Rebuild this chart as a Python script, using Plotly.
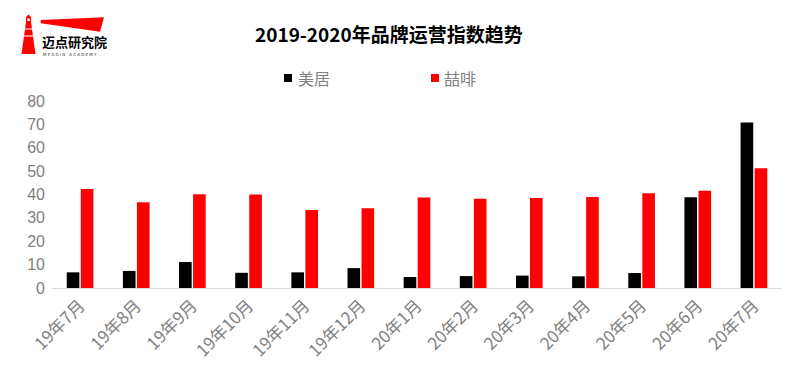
import plotly.graph_objects as go

categories = ["19年7月", "19年8月", "19年9月", "19年10月", "19年11月", "19年12月",
              "20年1月", "20年2月", "20年3月", "20年4月", "20年5月", "20年6月", "20年7月"]
meiju = [6.7, 7.3, 11.1, 6.5, 6.7, 8.5, 4.7, 5.1, 5.3, 5.0, 6.4, 38.8, 70.8]
zhefei = [42.4, 36.7, 40.1, 40.0, 33.4, 34.1, 38.7, 38.2, 38.5, 38.9, 40.5, 41.6, 51.2]
y_ticks = [0, 10, 20, 30, 40, 50, 60, 70, 80]
series_names = ["美居", "喆啡"]
series_colors = ["#000000", "#ff0000"]

# page body has an 8px margin: figure origin sits at (8, 8) of the window
OFF = 8
W, H = 800 - OFF, 376 - OFF
L, R, T, B = 52 - OFF, 18, 101 - OFF, 88
PW, PH = W - L - R, H - T - B

def px(x):
    return (x - OFF - L) / PW

def py(y):
    return (H - B - (y - OFF)) / PH

FONT = "Noto Sans CJK SC, Microsoft YaHei, sans-serif"

fig = go.Figure()
fig.add_trace(go.Bar(name=series_names[0], x=categories, y=meiju,
                     marker_color=series_colors[0], marker_line_width=0))
fig.add_trace(go.Bar(name=series_names[1], x=categories, y=zhefei,
                     marker_color=series_colors[1], marker_line_width=0))

shapes = []
def poly(pts, color):
    path = "M " + " L ".join(f"{px(a)},{py(b)}" for a, b in pts) + " Z"
    return dict(type="path", xref="paper", yref="paper", path=path,
                fillcolor=color, line_width=0, layer="above")

# logo
shapes.append(poly([(40.7, 20), (104, 17.3), (100, 31.7), (40.7, 23.3)], "#ff0000"))
shapes.append(poly([(26, 22), (31, 22), (35.5, 54), (21.5, 54)], "#ff0000"))
shapes.append(poly([(26, 22), (26, 17), (28.5, 14.5), (31, 17), (31, 22)], "#ff0000"))
shapes.append(dict(type="rect", xref="paper", yref="paper",
                   x0=px(27.3), x1=px(29.8), y0=py(18.5), y1=py(21),
                   fillcolor="#ffffff", line_width=0, layer="above"))
for yy in (29, 36):
    shapes.append(dict(type="line", xref="paper", yref="paper",
                       x0=px(24), x1=px(34), y0=py(yy), y1=py(yy),
                       line=dict(color="#ffffff", width=1), layer="above"))

annotations = [
    dict(text="<b>2019-2020年品牌运营指数趋势</b>", xref="paper", yref="paper",
         x=px(389), y=py(34), showarrow=False, xanchor="center", yanchor="middle",
         font=dict(family=FONT, size=19, color="#000000")),
    dict(text="<b>迈点研究院</b>", xref="paper", yref="paper",
         x=px(40), y=py(41), showarrow=False, xanchor="left", yanchor="middle",
         font=dict(family=FONT, size=13, color="#000000")),
    dict(text="M E A D I N   A C A D E M Y", xref="paper", yref="paper",
         x=px(41), y=py(54.5), showarrow=False, xanchor="left", yanchor="middle",
         font=dict(family="DejaVu Sans", size=4, color="#333333")),
]

# legend (drawn manually to match the original's spacing)
legend_x = [(284, 298), (431, 444)]
for (sx, tx), name, color in zip(legend_x, series_names, series_colors):
    shapes.append(dict(type="rect", xref="paper", yref="paper",
                       x0=px(sx), x1=px(sx + 8), y0=py(82), y1=py(74),
                       fillcolor=color, line_width=0, layer="above"))
    annotations.append(dict(text=name, xref="paper", yref="paper",
                            x=px(tx - 2), y=py(78), showarrow=False,
                            xanchor="left", yanchor="middle",
                            font=dict(family=FONT, size=16, color="#808080")))

fig.update_layout(
    width=W, height=H,
    margin=dict(l=L, r=R, t=T, b=B, pad=0),
    paper_bgcolor="#ffffff", plot_bgcolor="#ffffff",
    barmode="group", bargap=0.5, bargroupgap=0.1,
    font=dict(family=FONT, color="#808080"),
    showlegend=False,
    shapes=shapes, annotations=annotations,
    xaxis=dict(tickangle=-45, tickfont=dict(family=FONT, size=17, color="#808080"),
               showline=True, linecolor="#d9d9d9", linewidth=1, showgrid=False,
               ticks="", fixedrange=True, automargin=False),
    yaxis=dict(range=[0, 80], tickvals=y_ticks, showgrid=False, zeroline=False,
               showline=False,
               tickfont=dict(family="Liberation Sans, Arial", size=16, color="#808080"),
               ticks="", ticklabelstandoff=6, automargin=False),
)

fig.write_html("out.html")
